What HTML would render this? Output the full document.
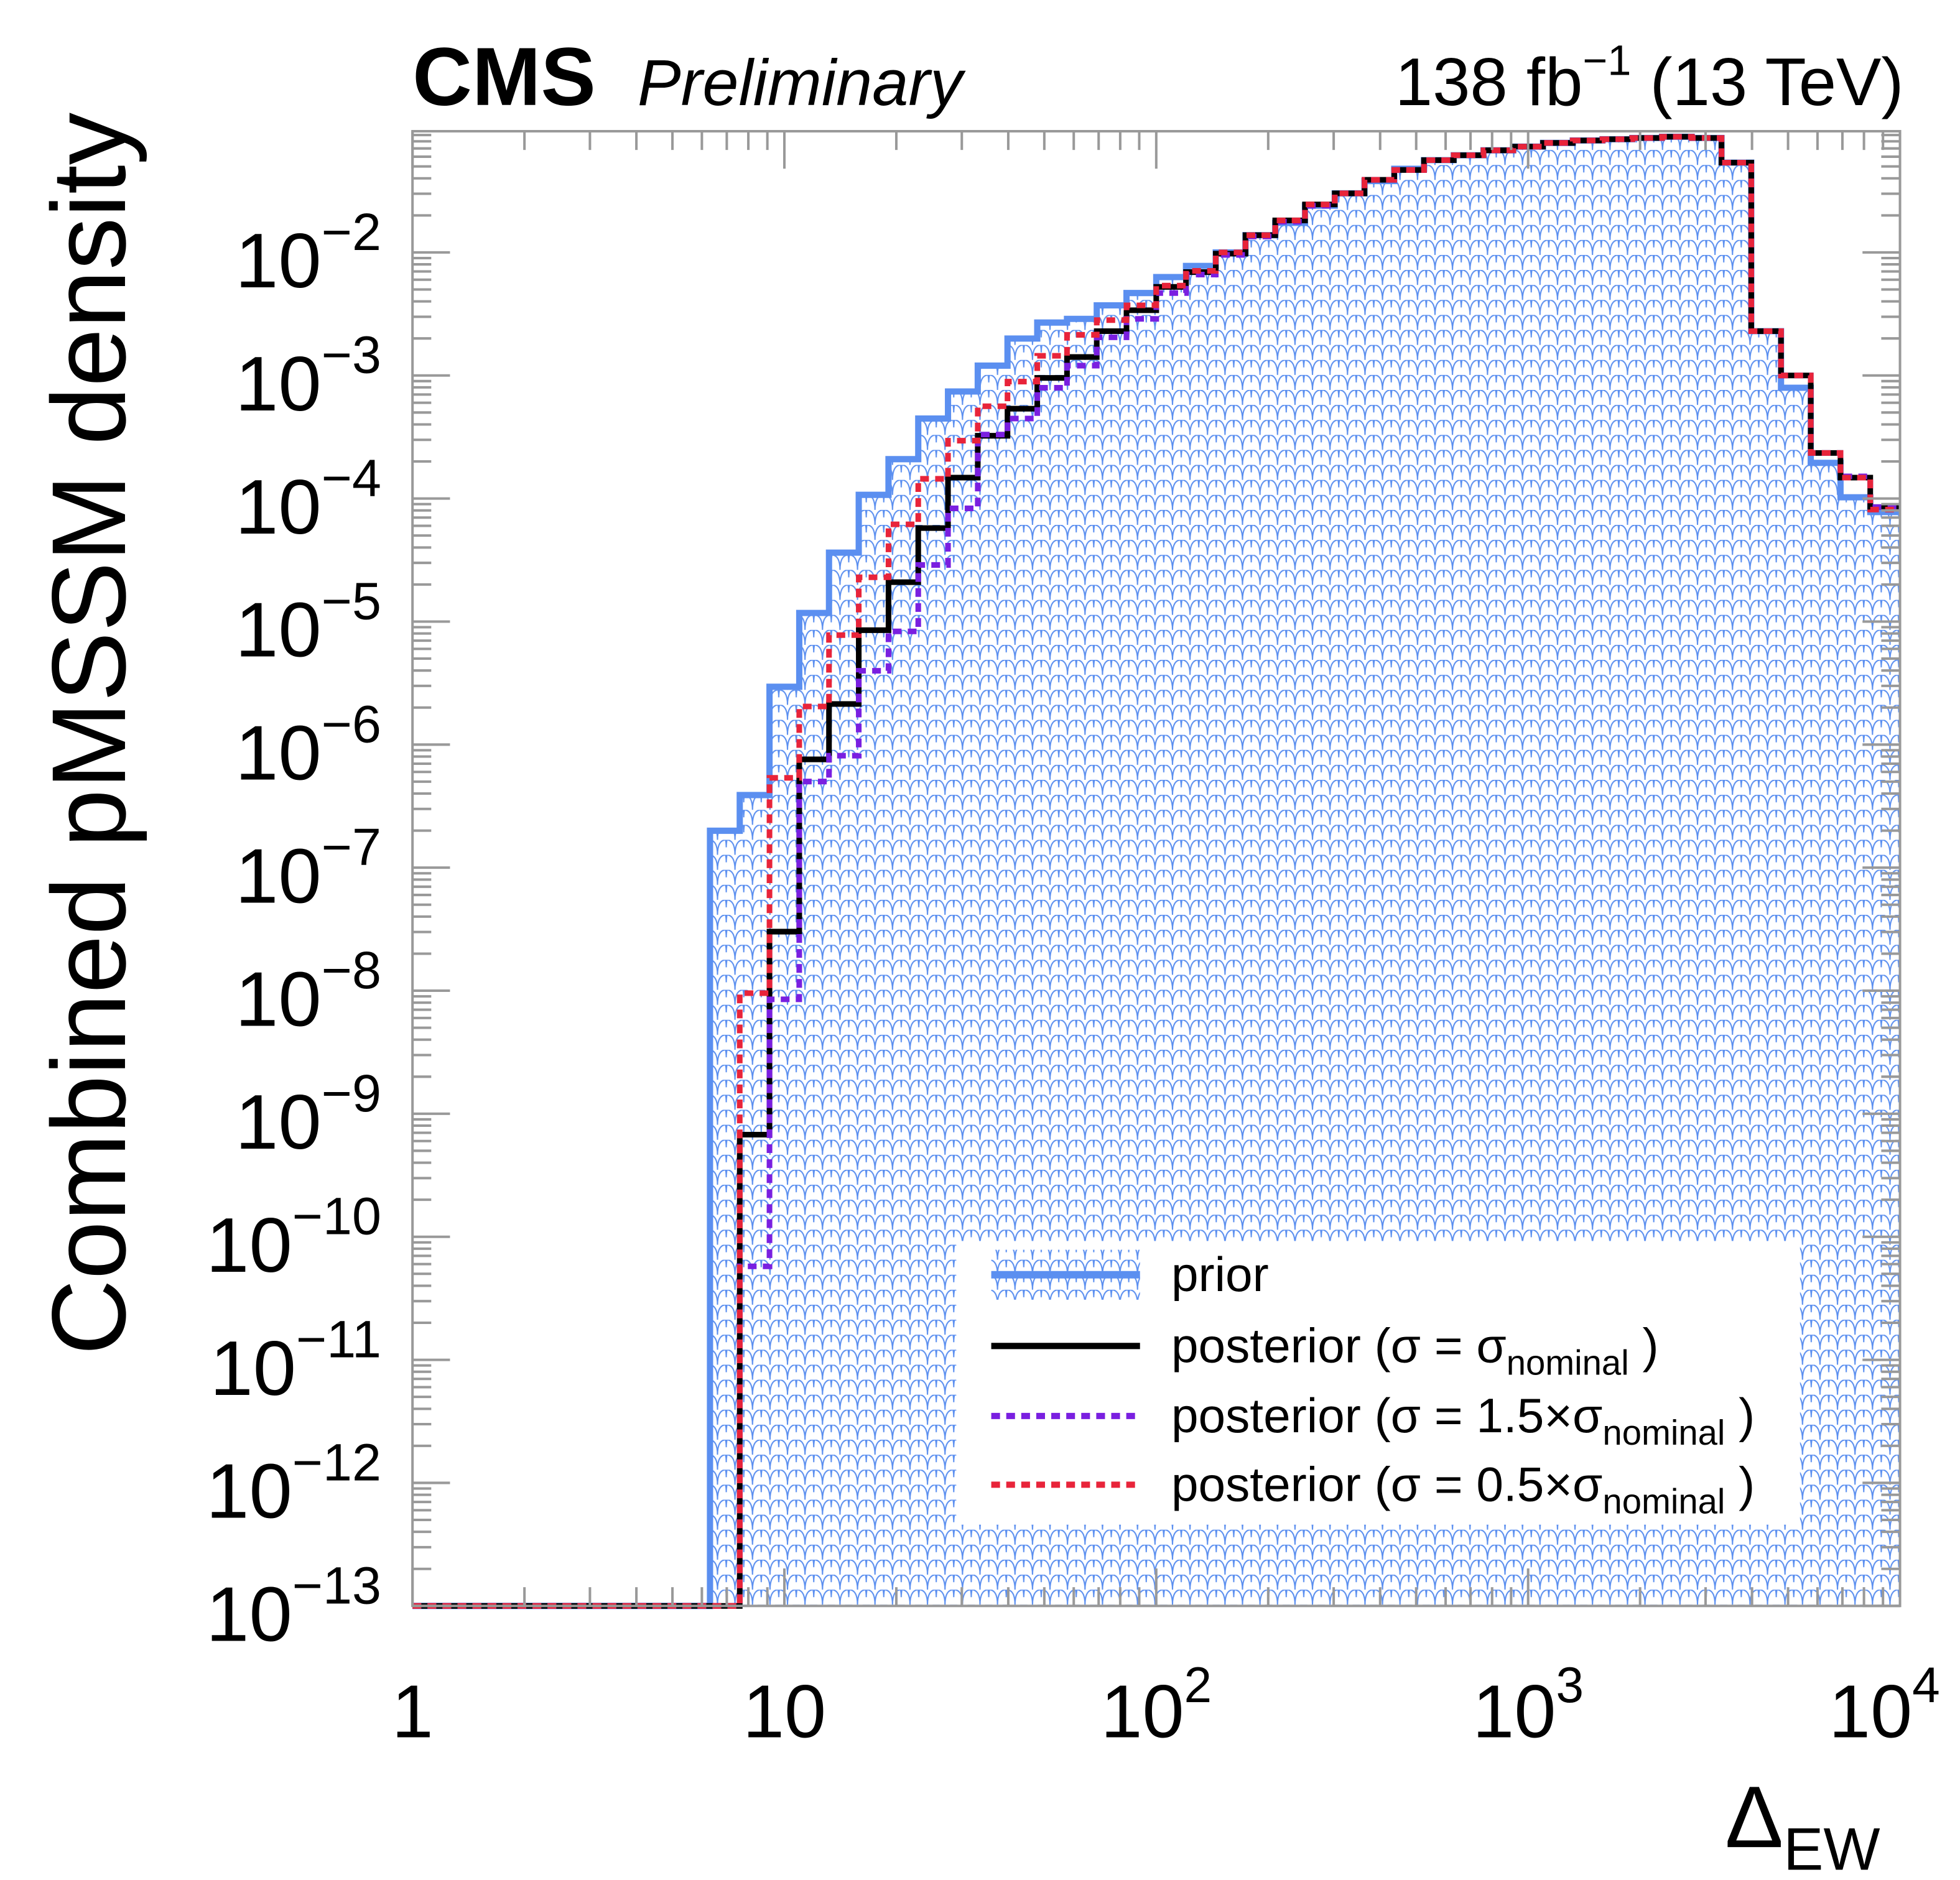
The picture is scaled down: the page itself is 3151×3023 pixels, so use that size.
<!DOCTYPE html>
<html><head><meta charset="utf-8"><style>html,body{margin:0;padding:0;background:#fff}svg{display:block}text{font-family:"Liberation Sans",sans-serif}</style></head>
<body>
<svg id="chart" xmlns="http://www.w3.org/2000/svg" width="3151" height="3023" viewBox="0 0 1568 1504.3">
<defs>
<pattern id="hatch" patternUnits="userSpaceOnUse" width="14" height="12">
<rect width="14" height="12" fill="#fff"/>
<path d="M0 12 Q0 0 7 0 Q14 0 14 12 M-7 6 Q-7 -6 0 -6 Q7 -6 7 6 M7 6 Q7 -6 14 -6 Q21 -6 21 6" fill="none" stroke="#5b8ff0" stroke-width="1"/>
</pattern>
</defs>
<g id="plot"></g>
<text x="330" y="84" font-size="66" font-weight="bold">CMS</text>
<text x="510" y="84" font-size="52" font-style="italic">Preliminary</text>
<text x="1523" y="84" font-size="54" text-anchor="end">138 fb<tspan dy="-24" font-size="34">−1</tspan><tspan dy="24"> (13 TeV)</tspan></text>
<text transform="translate(100,90) rotate(-90)" font-size="84" text-anchor="end">Combined pMSSM density</text>
<text x="1380" y="1478" font-size="70">Δ<tspan dy="18" font-size="48">EW</tspan></text>
<g id="legend">
<rect x="765" y="993" width="675" height="227" fill="#fff"/>
<g><rect x="793" y="1000" width="119" height="40" fill="url(#hatch)"/><line x1="793" y1="1020" x2="912" y2="1020" stroke="#5b8ff0" stroke-width="6"/><text x="937" y="1033" font-size="39">prior</text></g>
<g><line x1="793" y1="1077" x2="912" y2="1077" stroke="#000" stroke-width="5"/><text x="937" y="1090" font-size="39">posterior (σ = σ<tspan dy="10" font-size="28">nominal</tspan><tspan dy="-10"> )</tspan></text></g>
<g><line x1="793" y1="1133" x2="912" y2="1133" stroke="#7a1fe0" stroke-width="5" stroke-dasharray="7,5"/><text x="937" y="1146" font-size="39">posterior (σ = 1.5×σ<tspan dy="10" font-size="28">nominal</tspan><tspan dy="-10"> )</tspan></text></g>
<g><line x1="793" y1="1188" x2="912" y2="1188" stroke="#e8243a" stroke-width="5" stroke-dasharray="7,5"/><text x="937" y="1201" font-size="39">posterior (σ = 0.5×σ<tspan dy="10" font-size="28">nominal</tspan><tspan dy="-10"> )</tspan></text></g>
</g>
</svg>
<script>
// 50 log-uniform bins from 1 to 1e4; values are log10(density)
const binStart = 10;
const priorLog = [-6.70,-6.41,-5.53,-4.93,-4.44,-3.97,-3.68,-3.35,-3.13,-2.92,-2.70,-2.57,-2.54,-2.43,-2.33,-2.20,-2.11,-2.00,-1.86,-1.76,-1.62,-1.52,-1.42,-1.32,-1.25,-1.21,-1.17,-1.14,-1.11,-1.09,-1.08,-1.07,-1.06,-1.07,-1.27,-2.64,-3.10,-3.71,-3.99,-4.11];
const nominalLog = [-13,-9.17,-7.52,-6.12,-5.67,-5.07,-4.68,-4.24,-3.83,-3.49,-3.27,-3.02,-2.85,-2.64,-2.47,-2.28,-2.16,-2.01,-1.86,-1.74,-1.61,-1.52,-1.41,-1.33,-1.25,-1.21,-1.17,-1.14,-1.11,-1.09,-1.08,-1.07,-1.06,-1.07,-1.27,-2.64,-3.00,-3.63,-3.83,-4.07];
const wideLog = [-13,-10.24,-8.07,-6.30,-6.09,-5.40,-5.08,-4.54,-4.08,-3.48,-3.35,-3.10,-2.92,-2.69,-2.54,-2.33,-2.18,-2.02,-1.87,-1.75,-1.62,-1.52,-1.41,-1.33,-1.25,-1.21,-1.17,-1.14,-1.11,-1.09,-1.08,-1.07,-1.06,-1.07,-1.27,-2.64,-3.00,-3.63,-3.82,-4.07];
const narrowLog = [-13,-8.02,-6.27,-5.69,-5.11,-4.64,-4.21,-3.84,-3.53,-3.25,-3.05,-2.84,-2.67,-2.55,-2.43,-2.27,-2.15,-2.00,-1.86,-1.74,-1.61,-1.52,-1.41,-1.33,-1.25,-1.21,-1.17,-1.14,-1.11,-1.09,-1.08,-1.07,-1.06,-1.07,-1.27,-2.64,-3.00,-3.63,-3.83,-4.09];
const xTicks = ["1","10","10^2","10^3","10^4"];
const yTickExp = [-2,-3,-4,-5,-6,-7,-8,-9,-10,-11,-12,-13];

const L=330,R=1520,T=105,B=1285, NB=50;
const yMin=-13, yMax=-1.015;
const X = lx => L + (lx-0)/4*(R-L);
const Y = ly => B - (Math.max(ly,yMin)-yMin)/(yMax-yMin)*(B-T);
const edge = k => X(4*k/NB);
const NS="http://www.w3.org/2000/svg";
const g=document.getElementById('plot');
function mk(tag,attrs,parent){const e=document.createElementNS(NS,tag);for(const k in attrs)e.setAttribute(k,attrs[k]);(parent||g).appendChild(e);return e;}

function stepPath(vals,closed){
  let d='M'+L+' '+B+' L'+edge(binStart)+' '+B;
  vals.forEach((v,i)=>{const k=binStart+i;d+=' L'+edge(k)+' '+Y(v)+' L'+edge(k+1)+' '+Y(v);});
  if(closed) d+=' L'+R+' '+B+' Z';
  return d;
}
const fill=mk('path',{d:stepPath(priorLog,true),fill:'url(#hatch)',stroke:'none'});


const pl=mk('path',{d:stepPath(priorLog,false),fill:'none',stroke:'#5b8ff0','stroke-width':5});


const nl=mk('path',{d:stepPath(nominalLog,false),fill:'none',stroke:'#000','stroke-width':4.5});


const wl=mk('path',{d:stepPath(wideLog,false),fill:'none',stroke:'#7a1fe0','stroke-width':4.5,'stroke-dasharray':'7,5'});


const rl=mk('path',{d:stepPath(narrowLog,false),fill:'none',stroke:'#e8243a','stroke-width':4.5,'stroke-dasharray':'7,5'});



const fr=mk('rect',{x:L,y:T,width:R-L,height:B-T,fill:'none',stroke:'#999','stroke-width':2});


for(let d=0;d<4;d++){for(let m=1;m<10;m++){const x=X(d+Math.log10(m));const len=m==1?30:15;
 mk('line',{x1:x,y1:B,x2:x,y2:B-len,stroke:'#999','stroke-width':2});
 mk('line',{x1:x,y1:T,x2:x,y2:T+len,stroke:'#999','stroke-width':2});}}
for(let e=-13;e<-1;e++){for(let m=1;m<10;m++){const ly=e+Math.log10(m);if(ly>yMax)continue;const y=Y(ly);const len=m==1?30:15;
 mk('line',{x1:L,y1:y,x2:L+len,y2:y,stroke:'#999','stroke-width':2});
 mk('line',{x1:R,y1:y,x2:R-len,y2:y,stroke:'#999','stroke-width':2});}}
xTicks.forEach((t,i)=>{const x=X(i);const tx=mk('text',{x:x,y:1390,'font-size':60,'text-anchor':i==4?'end':'middle'});
 
 
 if(t.includes('^')){const [b,p]=t.split('^');tx.innerHTML=b+'<tspan dy="-28" font-size="40">'+p+'</tspan>';if(i==4)tx.setAttribute('x',x+32);}else tx.textContent=t;});
yTickExp.forEach(e=>{const y=Y(e);const tx=mk('text',{x:305,y:y+28,'font-size':62,'text-anchor':'end'});
 
 
 tx.innerHTML='10<tspan dy="-30" font-size="42">−'+(-e)+'</tspan>';});
g.appendChild(document.getElementById('legend'));
</script>
</body></html>
